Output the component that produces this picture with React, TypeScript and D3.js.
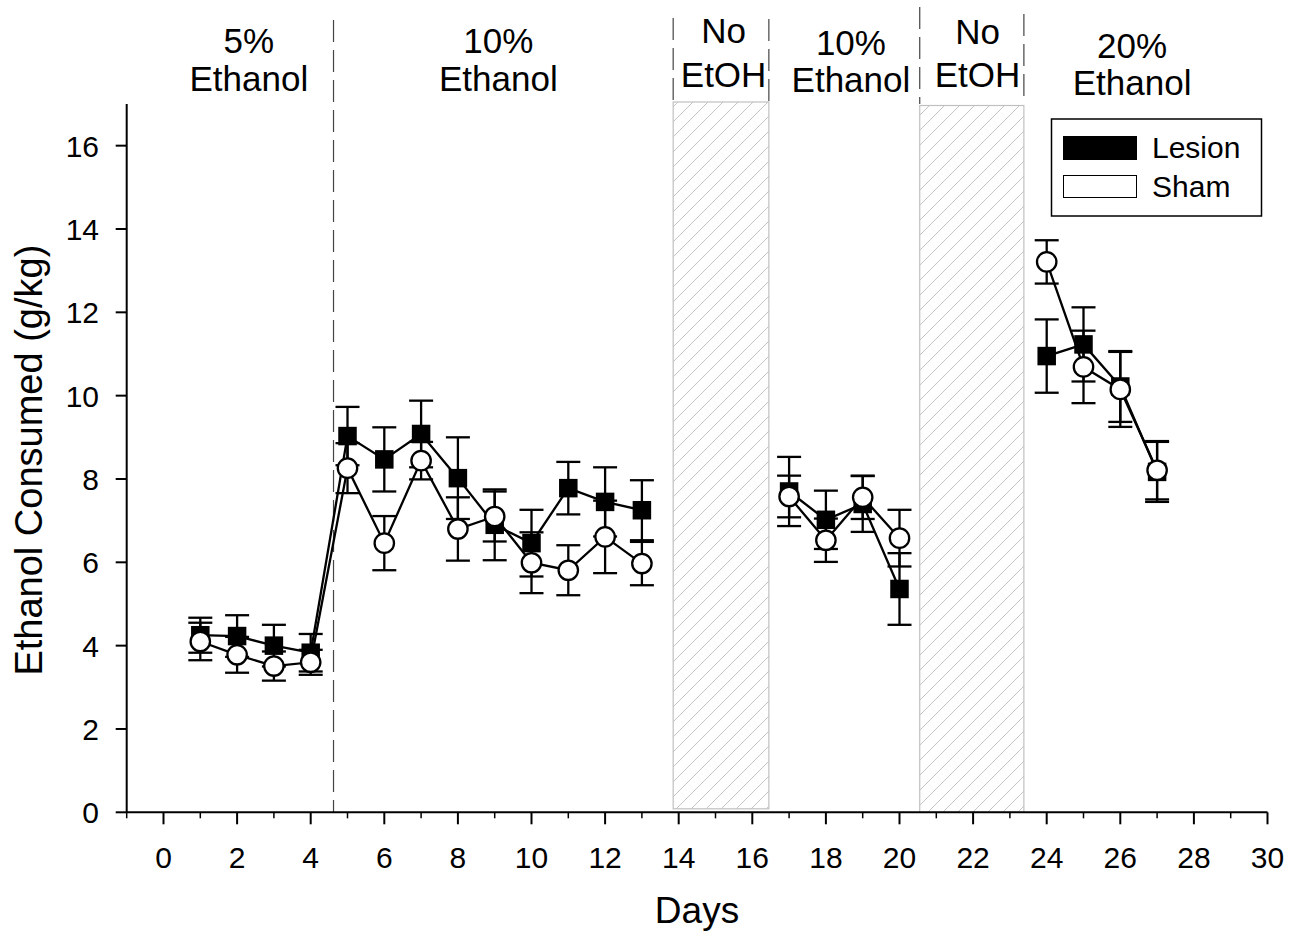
import React from "react";
import * as d3 from "d3";

// Days on which ethanol intake was measured
const days = [1, 2, 3, 4, 5, 6, 7, 8, 9, 10, 11, 12, 13, 17, 18, 19, 20, 24, 25, 26, 27];
// Consecutive runs of days that are joined by a line
const segments = [
  [1, 13],
  [17, 20],
  [24, 27],
];

const lesionMean = [4.25, 4.23, 4.0, 3.83, 9.03, 8.47, 9.08, 8.02, 6.9, 6.46, 7.78, 7.45, 7.25, 7.7, 7.02, 7.4, 5.36, 10.95, 11.23, 10.22, 8.17];
const lesionSem = [0.42, 0.5, 0.5, 0.45, 0.7, 0.77, 0.8, 0.98, 0.85, 0.8, 0.63, 0.83, 0.72, 0.83, 0.7, 0.67, 0.86, 0.88, 0.89, 0.85, 0.72];

const shamMean = [4.1, 3.78, 3.51, 3.6, 8.26, 6.46, 8.44, 6.8, 7.1, 5.99, 5.81, 6.61, 5.97, 7.58, 6.53, 7.56, 6.58, 13.21, 10.69, 10.15, 8.21];
const shamSem = [0.45, 0.43, 0.35, 0.3, 0.6, 0.65, 0.45, 0.76, 0.6, 0.73, 0.6, 0.87, 0.52, 0.5, 0.52, 0.52, 0.68, 0.52, 0.87, 0.9, 0.7];

// Phase boundaries (in days)
const phaseDividers = [4.62];
const noEthanolSpans = [
  [13.85, 16.45],
  [20.55, 23.38],
];

// Phase headings: centre (in days) and two text lines
const phaseLabels = [
  { x: 2.32, lines: ["5%", "Ethanol"], base: [53, 91] },
  { x: 9.1, lines: ["10%", "Ethanol"], base: [53, 91] },
  { x: 15.22, lines: ["No", "EtOH"], base: [43, 87] },
  { x: 18.68, lines: ["10%", "Ethanol"], base: [55, 92] },
  { x: 22.12, lines: ["No", "EtOH"], base: [44, 87] },
  { x: 26.32, lines: ["20%", "Ethanol"], base: [58, 95] },
];

const xMajorTicks = d3.range(0, 31, 2);
const xMinorTicks = d3.range(-1, 30, 2);
const yTicks = d3.range(0, 17, 2);

const FONT = "Liberation Sans, Arial, Helvetica, sans-serif";

export default function App() {
  const width = 1292;
  const height = 934;
  const x = d3.scaleLinear().domain([-1, 30]).range([126.7, 1267.5]);
  const y = d3.scaleLinear().domain([0, 17]).range([812.3, 104]);

  const rows = days.map((d, i) => ({
    day: d,
    lm: lesionMean[i],
    ls: lesionSem[i],
    sm: shamMean[i],
    ss: shamSem[i],
  }));

  const lesionLine = d3
    .line<(typeof rows)[number]>()
    .x((r) => x(r.day))
    .y((r) => y(r.lm));
  const shamLine = d3
    .line<(typeof rows)[number]>()
    .x((r) => x(r.day))
    .y((r) => y(r.sm));

  const segRows = segments.map(([a, b]) => rows.filter((r) => r.day >= a && r.day <= b));

  const cap = 12;
  const sq = 18.5;
  const rad = 9.7;
  const sw = 2.3;

  const errorBars = (mean: (r: any) => number, sem: (r: any) => number, key: string) =>
    rows.map((r) => {
      const cx = x(r.day);
      const top = y(mean(r) + sem(r));
      const bot = y(mean(r) - sem(r));
      return (
        <g key={key + r.day} stroke="#000" strokeWidth={sw}>
          <line x1={cx} x2={cx} y1={top} y2={bot} />
          <line x1={cx - cap} x2={cx + cap} y1={top} y2={top} />
          <line x1={cx - cap} x2={cx + cap} y1={bot} y2={bot} />
        </g>
      );
    });

  return (
    <svg
      width={width}
      height={height}
      style={{ position: "absolute", left: 0, top: 0, background: "#fff" }}
      fontFamily={FONT}
    >
      <defs>
        <pattern id="hatch" patternUnits="userSpaceOnUse" width={15} height={15}>
          <line x1={0} y1={15} x2={15} y2={0} stroke="#c4c4c4" strokeWidth={1} />
          <line x1={-3} y1={3} x2={3} y2={-3} stroke="#c4c4c4" strokeWidth={1} />
          <line x1={12} y1={18} x2={18} y2={12} stroke="#c4c4c4" strokeWidth={1} />
        </pattern>
      </defs>

      {/* no-ethanol periods */}
      {noEthanolSpans.map(([a, b], i) => (
        <g key={"span" + i}>
          <rect
            x={x(a)}
            y={y(17) - (i === 0 ? 2 : -1.5)}
            width={x(b) - x(a)}
            height={y(0) - y(17) - 1.5}
            fill="url(#hatch)"
            stroke="#c0c0c0"
            strokeWidth={1.2}
          />
          <line x1={x(a)} x2={x(a)} y1={i === 0 ? 18 : 7} y2={y(17)} stroke="#444" strokeWidth={1.2} strokeDasharray="22 8" />
          <line x1={x(b)} x2={x(b)} y1={i === 0 ? 19 : 14} y2={y(17)} stroke="#444" strokeWidth={1.2} strokeDasharray="22 8" />
        </g>
      ))}

      {/* phase dividers */}
      {phaseDividers.map((d, i) => (
        <line key={"div" + i} x1={x(d)} x2={x(d)} y1={20} y2={y(0)} stroke="#444" strokeWidth={1.2} strokeDasharray="22 8" />
      ))}

      {/* phase headings */}
      {phaseLabels.map((p, i) => (
        <g key={"pl" + i} fontSize={35} textAnchor="middle" fill="#000">
          <text x={x(p.x)} y={p.base[0]}>{p.lines[0]}</text>
          <text x={x(p.x)} y={p.base[1]}>{p.lines[1]}</text>
        </g>
      ))}

      {/* axes */}
      <g stroke="#000" strokeWidth={2}>
        <line x1={x(-1)} x2={x(30)} y1={y(0)} y2={y(0)} />
        <line x1={x(-1)} x2={x(-1)} y1={y(0)} y2={y(17)} />
        {xMajorTicks.map((t) => (
          <line key={"xM" + t} x1={x(t)} x2={x(t)} y1={y(0)} y2={y(0) + 12} />
        ))}
        {xMinorTicks.map((t) => (
          <line key={"xm" + t} x1={x(t)} x2={x(t)} y1={y(0)} y2={y(0) + 6} strokeWidth={1.5} />
        ))}
        {yTicks.map((t) => (
          <line key={"y" + t} x1={x(-1) - 11} x2={x(-1)} y1={y(t)} y2={y(t)} />
        ))}
      </g>
      <g fontSize={30} fill="#000">
        {xMajorTicks.map((t) => (
          <text key={"xl" + t} x={x(t)} y={868} textAnchor="middle">
            {t}
          </text>
        ))}
        {yTicks.map((t) => (
          <text key={"yl" + t} x={99} y={y(t) + 11} textAnchor="end">
            {t}
          </text>
        ))}
      </g>
      <text x={697} y={923} fontSize={37} textAnchor="middle" fill="#000">
        Days
      </text>
      <text
        transform={`translate(42, ${(y(0) + y(17)) / 2 + 2}) rotate(-90)`}
        fontSize={38}
        textAnchor="middle"
        fill="#000"
      >
        Ethanol Consumed (g/kg)
      </text>

      {/* Lesion series */}
      {segRows.map((s, i) => (
        <path key={"ll" + i} d={lesionLine(s) || ""} fill="none" stroke="#000" strokeWidth={sw} />
      ))}
      {errorBars((r) => r.lm, (r) => r.ls, "le")}
      {rows.map((r) => (
        <rect key={"ls" + r.day} x={x(r.day) - sq / 2} y={y(r.lm) - sq / 2} width={sq} height={sq} fill="#000" />
      ))}

      {/* Sham series */}
      {segRows.map((s, i) => (
        <path key={"sl" + i} d={shamLine(s) || ""} fill="none" stroke="#000" strokeWidth={sw} />
      ))}
      {errorBars((r) => r.sm, (r) => r.ss, "se")}
      {rows.map((r) => (
        <circle key={"sc" + r.day} cx={x(r.day)} cy={y(r.sm)} r={rad} fill="#fff" stroke="#000" strokeWidth={sw} />
      ))}

      {/* legend */}
      <rect x={1051.5} y={119} width={210} height={97} fill="#fff" stroke="#000" strokeWidth={1.5} />
      <rect x={1063} y={136} width={74} height={24} fill="#000" />
      <rect x={1063.5} y={175.5} width={73} height={22} fill="#fff" stroke="#000" strokeWidth={1} />
      <g fontSize={30} fill="#000">
        <text x={1152} y={157.5}>Lesion</text>
        <text x={1152} y={197}>Sham</text>
      </g>
    </svg>
  );
}
